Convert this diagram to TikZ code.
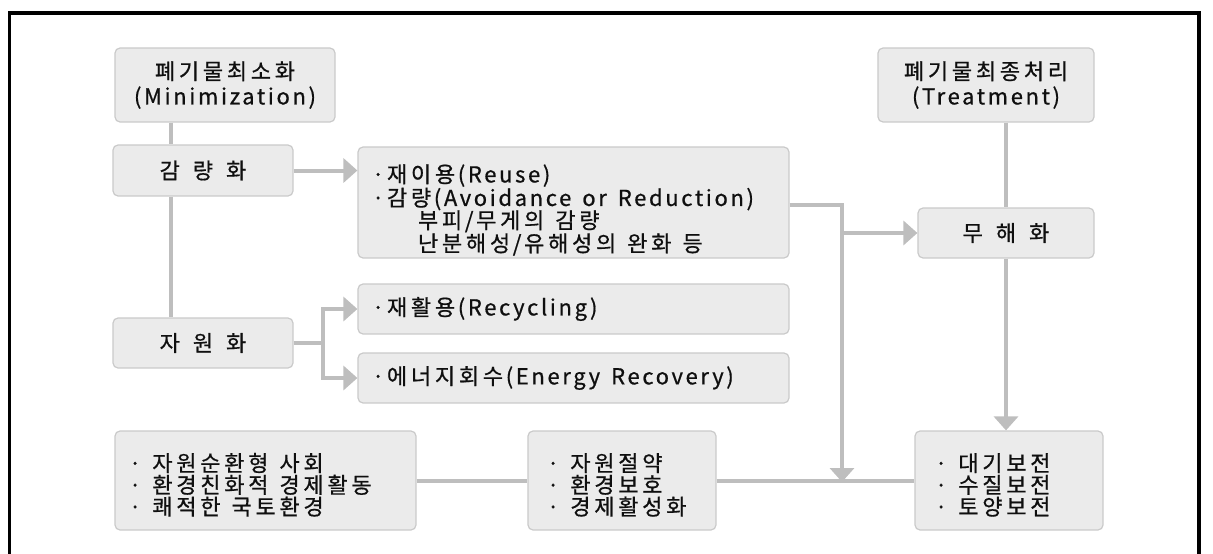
\documentclass[tikz,border=0pt]{standalone}
\usepackage{fontspec}
\setmainfont{Noto Sans CJK KR}[LetterSpace=12,FakeBold=0.7]
\usetikzlibrary{positioning}
\usetikzlibrary{calc}
\usetikzlibrary{arrows.meta}

% un peu d'air entre les syllabes hangul
\newcount\hcnt
\hcnt="AC00
\loop \XeTeXcharclass\hcnt=7 \advance\hcnt by 1 \ifnum\hcnt<"D7A4 \repeat
\XeTeXinterchartoks 7 7 = {\kern0.17em\relax}
\XeTeXinterchartokenstate=1

\definecolor{fondboite}{RGB}{235,235,235}
\definecolor{bordboite}{RGB}{202,202,202}
\definecolor{trait}{RGB}{190,190,190}
\definecolor{texte}{RGB}{15,15,15}

\tikzset{ % boites et liens du schema
    boite/.style={draw=bordboite,fill=fondboite,line width=1.2pt,rounded corners=5pt,
        inner sep=0pt,text=texte,font=\fontsize{22}{25}\selectfont},
    titre/.style={boite,align=center},
    espace/.style={boite,execute at begin node={\spaceskip=13pt\relax}},
    liste/.style={boite,align=left,inner xsep=14pt,font=\fontsize{22}{21.8}\selectfont,
        execute at begin node={\spaceskip=11pt plus 2pt\relax}},
    lien/.style={draw=trait,line width=4pt},
    fleche/.style={lien,-{Triangle[length=14pt,width=24pt]}}
}

\begin{document}
\begin{tikzpicture}[x=1pt,y=-1pt]
    \useasboundingbox (0,0) rectangle (1213,554);
    \clip (0,0) rectangle (1213,554);
    \draw[line width=3.5pt] (9.5,13) rectangle (1199,580);
    % colonne gauche
    \node[titre,minimum width=220pt,minimum height=74pt] (mini) at (225,85) {폐기물최소화\\(Minimization)};
    \node[espace,minimum width=180pt,minimum height=51pt] (gam) at (203,170.5) {감 량 화};
    \node[espace,minimum width=180pt,minimum height=50pt] (jawon) at (203,343) {자 원 화};
    % colonne du milieu
    \node[liste,text width=403pt,minimum height=111pt] (reuse) at (573.5,202.5)
        {\rule{0pt}{33pt}·재이용(Reuse)\\·감량(Avoidance or Reduction)\\[-1pt]
         \hspace*{46pt}부피/무게의 감량\\
         \hspace*{46pt}난분해성/유해성의 완화 등};
    \node[liste,text width=403pt,minimum height=50pt] (recyc) at (573.5,309) {·재활용(Recycling)};
    \node[liste,text width=403pt,minimum height=50pt] (energy) at (573.5,378) {·에너지회수(Energy Recovery)};
    % colonne droite
    \node[titre,minimum width=216pt,minimum height=74pt] (treat) at (986,85) {폐기물최종처리\\(Treatment)};
    \node[espace,minimum width=176pt,minimum height=50pt] (muhae) at (1006,233) {무 해 화};
    % ligne du bas
    \node[liste,text width=273pt,minimum height=99pt,inner xsep=14pt] (society) at (265.5,480.5)
        {\rule{0pt}{27pt}· 자원순환형 사회\\· 환경친화적 경제활동\\· 쾌적한 국토환경};
    \node[liste,text width=150pt,minimum height=99pt,inner xsep=19pt] (saving) at (622,480.5)
        {\rule{0pt}{27pt}· 자원절약\\· 환경보호\\· 경제활성화};
    \node[liste,text width=148pt,minimum height=99pt,inner xsep=20pt] (conserve) at (1009,480.5)
        {\rule{0pt}{27pt}· 대기보전\\· 수질보전\\· 토양보전};
    % liens
    \coordinate (spine) at (171,0);
    \coordinate (fork) at (323,343);
    \coordinate (junc) at (842,480);
    \draw[lien] (spine |- mini.south) -- (spine |- gam.north);
    \draw[lien] (spine |- gam.south) -- (spine |- jawon.north);
    \draw[fleche] (gam.east) -- (gam.east -| reuse.west);
    \draw[lien] (jawon.east) -- (fork);
    \draw[fleche] (fork) |- (recyc.west);
    \draw[fleche] (fork) |- (energy.west);
    \draw[lien] ([yshift=-2.5pt]reuse.east) -| (junc);
    \draw[fleche] ([yshift=-2.5pt]reuse.east -| junc) -- ([yshift=-2pt]junc);
    \draw[fleche] (junc |- muhae.west) -- (muhae.west);
    \draw[lien] (muhae.north |- treat.south) -- (muhae.north);
    \draw[fleche] (muhae.south) -- (muhae.south |- conserve.north);
    \draw[lien] (society.east) -- (saving.west);
    \draw[lien] (saving.east) -- (conserve.west);
\end{tikzpicture}
\end{document}
